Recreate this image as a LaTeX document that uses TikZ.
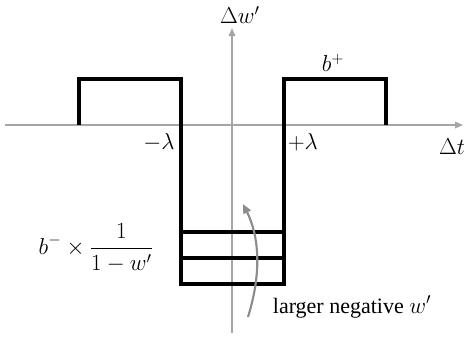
\documentclass[tikz,border=0pt]{standalone}
\usepackage{fontspec}
\setmainfont{Liberation Serif}
\usetikzlibrary{arrows.meta}
\definecolor{axisgray}{HTML}{A6A6A6}
\definecolor{arrgray}{HTML}{8C8C8C}
\begin{document}
\begin{tikzpicture}[x=0.75pt,y=-0.75pt,
  axis/.style={draw=axisgray, line width=0.9pt, -{Triangle[length=6pt,width=5pt]}},
  pulse/.style={draw=black, line width=2.4pt, line join=miter},
  lbl/.style={inner sep=0pt, font=\fontsize{18.5}{21}\selectfont}]
\useasboundingbox (0,0) rectangle (468,337);
% coordinates
\coordinate (xs) at (5,125);
\coordinate (xe) at (463,125);
\coordinate (ys) at (232,333);
\coordinate (ye) at (232,28);
% axes
\draw[axis] (xs) -- (xe);
\draw[axis] (ys) -- (ye);
% pulses
\coordinate (a0) at (79,125);
\coordinate (a1) at (79,79);
\coordinate (a2) at (181,79);
\coordinate (a3) at (181,284);
\coordinate (a4) at (284,284);
\coordinate (a5) at (284,79);
\coordinate (a6) at (386,79);
\coordinate (a7) at (386,125);
\draw[pulse] (a0) -- (a1) -- (a2) -- (a3) -- (a4) -- (a5) -- (a6) -- (a7);
\coordinate (l1a) at (181,232);
\coordinate (l1b) at (284,232);
\coordinate (l2a) at (181,258);
\coordinate (l2b) at (284,258);
\draw[pulse] (l1a) -- (l1b);
\draw[pulse] (l2a) -- (l2b);
% labels
\node[lbl] (dw) at (240,15) {$\Delta w'$};
\node[lbl] (bp) at (333,63) {$b^{+}$};
\node[lbl] (ml) at (159,142) {$-\lambda$};
\node[lbl] (pl) at (303,142) {$+\lambda$};
\node[lbl] (dt) at (452,147) {$\Delta t$};
\node[lbl] (frac) at (96,248) {$\displaystyle b^{-}\times\frac{1}{1-w'}$};
\node[lbl, font=\fontsize{16.5}{19}\selectfont] (lng) at (352,307) {larger negative $w'$};
% curved arrow
\coordinate (cs) at (248,317);
\coordinate (ce) at (243,204);
\draw[draw=arrgray, line width=1.6pt, -{Triangle[length=7pt,width=6pt]}] (cs) .. controls (262,272) and (259,236) .. (ce);
\end{tikzpicture}
\end{document}
